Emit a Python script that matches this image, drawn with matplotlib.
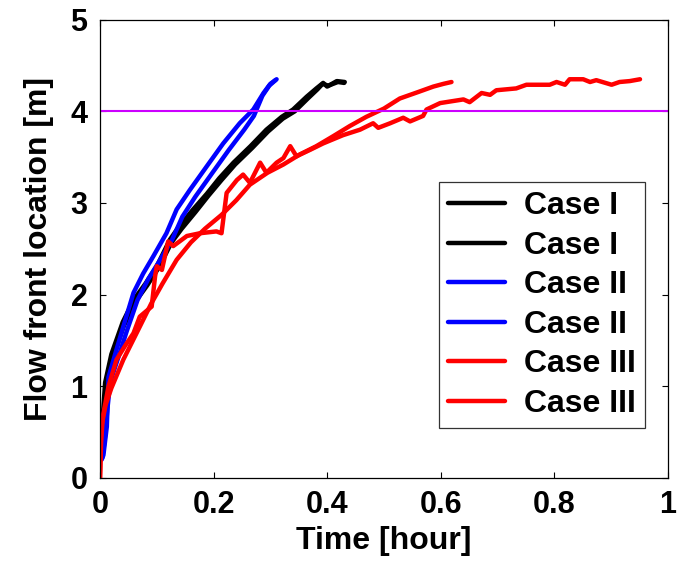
import matplotlib
matplotlib.use("Agg")
import matplotlib.pyplot as plt

plt.rcParams["font.family"] = ["Liberation Sans", "DejaVu Sans"]
plt.rcParams["font.weight"] = "bold"

# 充填フロント位置の時間変化（各ケース2回の計測）
t_case1a = [0.001, 0.003, 0.009, 0.020, 0.040, 0.060, 0.080, 0.100, 0.123, 0.140, 0.164, 0.188,
            0.210, 0.235, 0.265, 0.293, 0.320, 0.340, 0.364, 0.381, 0.393, 0.400, 0.417, 0.431]
y_case1a = [0.30, 0.50, 1.04, 1.35, 1.70, 1.95, 2.12, 2.31, 2.60, 2.75, 2.93, 3.10,
            3.27, 3.44, 3.62, 3.80, 3.94, 4.02, 4.16, 4.25, 4.31, 4.27, 4.33, 4.32]
t_case1b = [0.001, 0.004, 0.010, 0.022, 0.042, 0.062, 0.083, 0.104, 0.126, 0.144, 0.168, 0.191,
            0.214, 0.238, 0.268, 0.296, 0.322, 0.343, 0.366, 0.383, 0.392, 0.402, 0.419, 0.430]
y_case1b = [0.28, 0.45, 0.98, 1.30, 1.66, 1.92, 2.10, 2.30, 2.57, 2.72, 2.90, 3.08,
            3.25, 3.42, 3.60, 3.78, 3.92, 4.00, 4.14, 4.24, 4.30, 4.28, 4.32, 4.31]

t_case2a = [0.003, 0.006, 0.012, 0.015, 0.029, 0.041, 0.059, 0.076, 0.094, 0.117, 0.135,
            0.158, 0.188, 0.217, 0.246, 0.270, 0.288, 0.300, 0.311]
y_case2a = [0.20, 0.25, 0.56, 1.10, 1.40, 1.65, 2.02, 2.23, 2.42, 2.67, 2.93,
            3.14, 3.40, 3.65, 3.87, 4.02, 4.20, 4.30, 4.35]
t_case2b = [0.004, 0.008, 0.013, 0.018, 0.033, 0.047, 0.066, 0.085, 0.103, 0.127, 0.145,
            0.168, 0.198, 0.227, 0.254, 0.271, 0.286, 0.298, 0.309]
y_case2b = [0.22, 0.40, 0.75, 1.05, 1.33, 1.60, 1.94, 2.17, 2.35, 2.60, 2.85,
            3.07, 3.33, 3.58, 3.80, 3.95, 4.17, 4.28, 4.34]

t_case3a = [0.000, 0.002, 0.010, 0.020, 0.041, 0.070, 0.090, 0.110, 0.135, 0.160, 0.185, 0.214,
            0.240, 0.264, 0.295, 0.323, 0.352, 0.381, 0.411, 0.440, 0.469, 0.500, 0.528, 0.560,
            0.587, 0.605, 0.619]
y_case3a = [0.00, 0.55, 0.80, 0.98, 1.29, 1.65, 1.90, 2.12, 2.38, 2.57, 2.72, 2.87,
            3.03, 3.20, 3.33, 3.42, 3.53, 3.62, 3.73, 3.84, 3.94, 4.03, 4.14, 4.21,
            4.27, 4.30, 4.32]
t_case3b = [0.000, 0.002, 0.005, 0.015, 0.029, 0.045, 0.059, 0.070, 0.091, 0.097, 0.100, 0.109,
            0.120, 0.129, 0.153, 0.176, 0.205, 0.214, 0.223, 0.241, 0.252, 0.264, 0.282, 0.293,
            0.311, 0.323, 0.335, 0.346, 0.370, 0.393, 0.428, 0.458, 0.481, 0.490, 0.511, 0.534,
            0.546, 0.569, 0.575, 0.599, 0.640, 0.651, 0.672, 0.687, 0.698, 0.733, 0.751, 0.792,
            0.804, 0.819, 0.827, 0.851, 0.863, 0.874, 0.901, 0.915, 0.933, 0.951]
y_case3b = [0.00, 0.40, 0.67, 1.00, 1.29, 1.45, 1.58, 1.76, 1.87, 2.20, 2.31, 2.27,
            2.58, 2.53, 2.64, 2.67, 2.69, 2.67, 3.11, 3.25, 3.31, 3.22, 3.44, 3.33,
            3.44, 3.49, 3.62, 3.51, 3.58, 3.65, 3.74, 3.80, 3.87, 3.82, 3.87, 3.93,
            3.89, 3.95, 4.02, 4.09, 4.13, 4.10, 4.20, 4.18, 4.23, 4.25, 4.29, 4.29,
            4.32, 4.29, 4.35, 4.35, 4.32, 4.34, 4.29, 4.32, 4.33, 4.35]

target_location = 4.0

series = [
    (t_case1a, y_case1a, "k", "Case I"),
    (t_case1b, y_case1b, "k", "Case I"),
    (t_case2a, y_case2a, "#0000ff", "Case II"),
    (t_case2b, y_case2b, "#0000ff", "Case II"),
    (t_case3a, y_case3a, "#ff0000", "Case III"),
    (t_case3b, y_case3b, "#ff0000", "Case III"),
]

fig = plt.figure(figsize=(6.78, 5.62), dpi=100)
ax = fig.add_axes([0.1475, 0.1495, 0.8375, 0.8155])

for t, y, c, lab in series:
    ax.plot(t, y, color=c, linewidth=3.2, label=lab, solid_capstyle="round")

ax.axhline(target_location, color="#cc00ff", linewidth=1.5)

ax.set_xlim(0, 1)
ax.set_ylim(0, 5)
ax.set_xticks([0, 0.2, 0.4, 0.6, 0.8, 1])
ax.set_xticklabels(["0", "0.2", "0.4", "0.6", "0.8", "1"])
ax.set_yticks([0, 1, 2, 3, 4, 5])
ax.tick_params(direction="in", length=4, width=0.8, top=True, right=True,
               labelsize=22, pad=9)
for s in ax.spines.values():
    s.set_linewidth(0.9)

ax.set_xlabel("Time [hour]", fontsize=23, fontweight="bold", labelpad=4)
ax.set_ylabel("Flow front location [m]", fontsize=23, fontweight="bold", labelpad=12)

leg = ax.legend(loc="lower right", bbox_to_anchor=(0.96, 0.109), borderaxespad=0,
                fontsize=23, frameon=True, fancybox=False, edgecolor="k",
                handlelength=1.8, labelspacing=0.3, handletextpad=0.6,
                borderpad=0.28)
leg.get_frame().set_linewidth(0.9)

fig.savefig("out.png", dpi=100)
